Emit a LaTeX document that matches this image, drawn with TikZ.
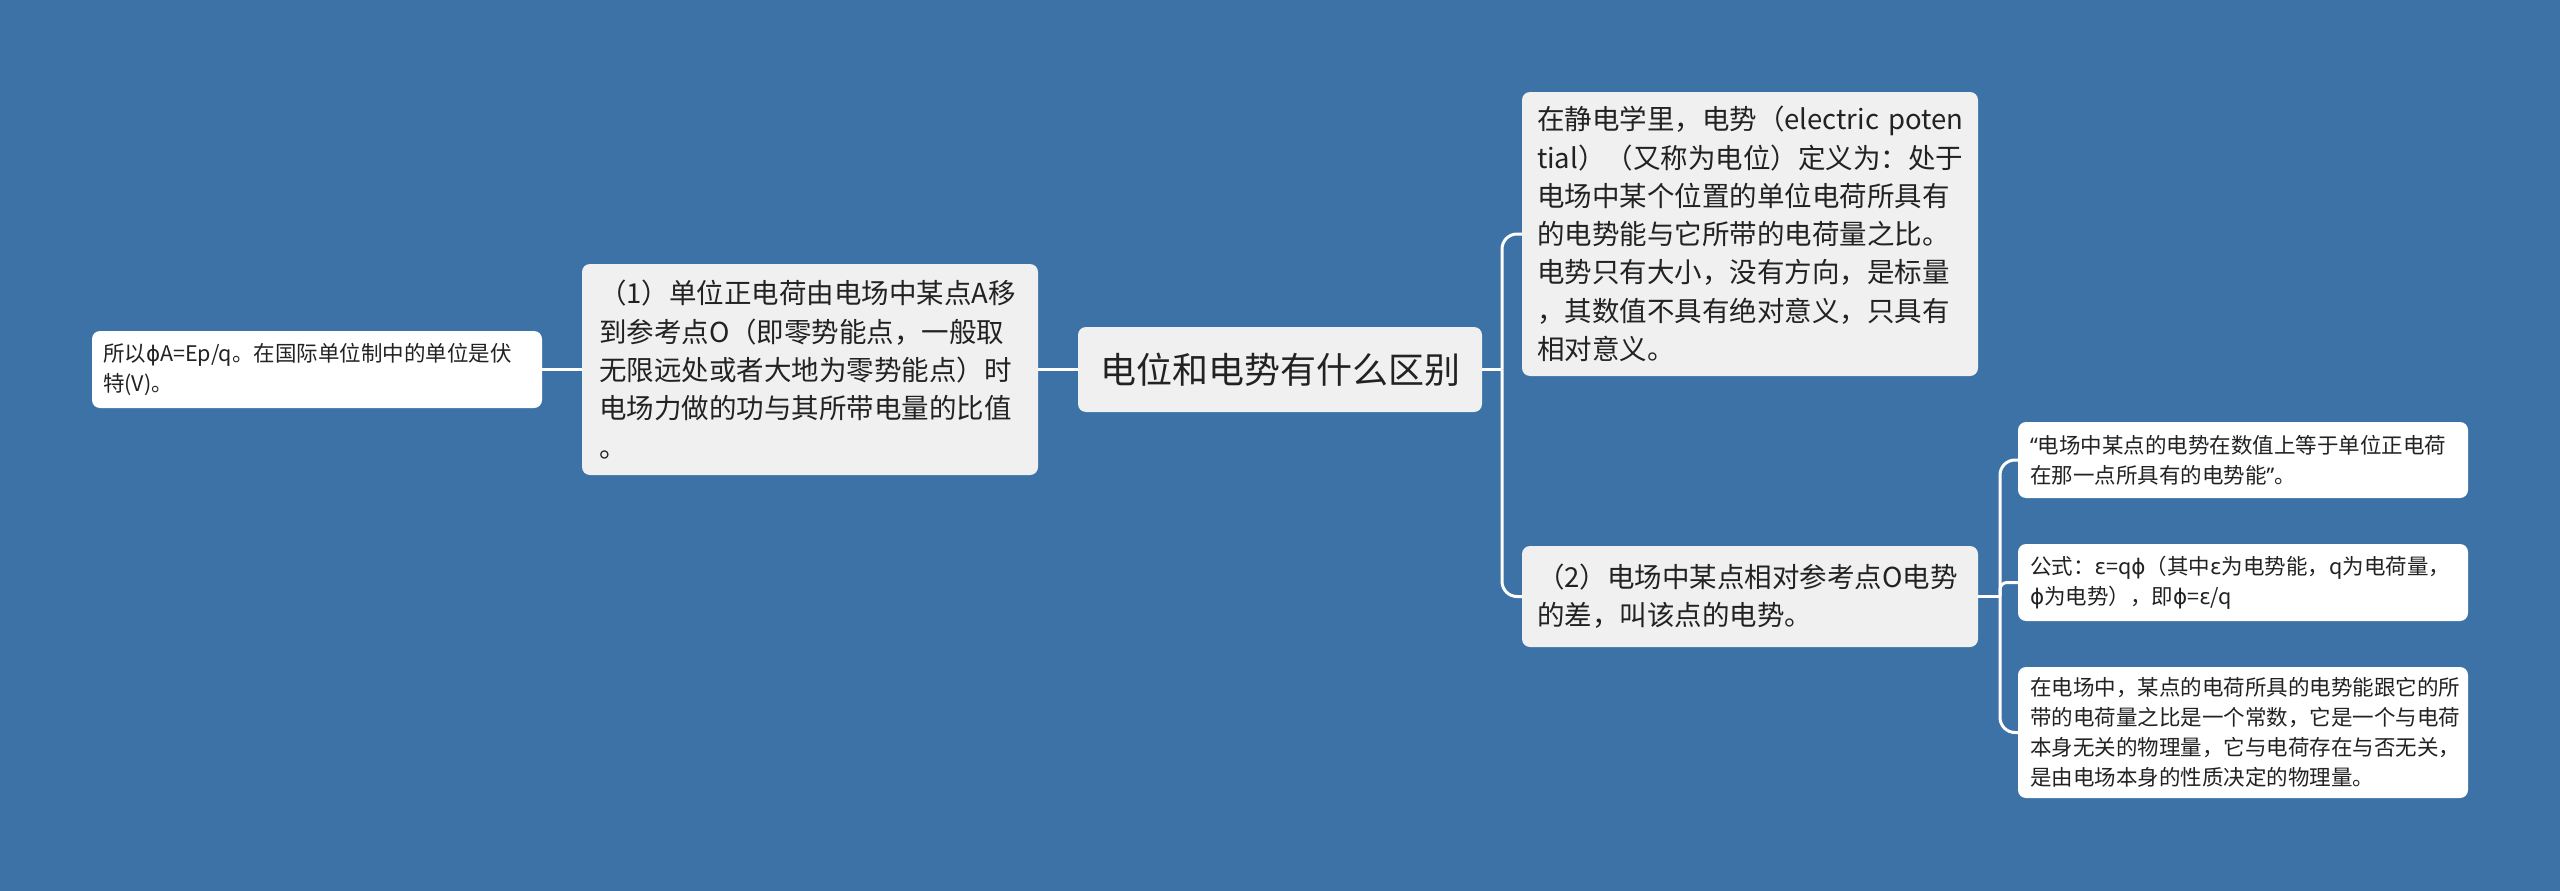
\documentclass[tikz,border=0pt]{standalone}
\usepackage{fontspec}
\setmainfont{Noto Sans CJK SC}
\newfontfamily\grk{DejaVu Sans}
\newfontfamily\quotefont{Noto Sans}
\definecolor{bg}{RGB}{61,114,166}
\definecolor{boxgray}{RGB}{240,240,240}
\definecolor{txt}{RGB}{34,34,34}
\begin{document}
\begin{tikzpicture}[x=1pt,y=-1pt,
  base/.style={rounded corners=8pt, inner ysep=0pt, align=left, text=txt, anchor=center},
  graybox/.style={base, fill=boxgray},
  whitebox/.style={base, fill=white},
  big/.style={font=\fontsize{27.5}{38.3}\selectfont},
  small/.style={font=\fontsize{21.5}{30}\selectfont},
  conn/.style={draw=white, line width=3pt},
]
\fill[bg] (0,0) rectangle (2560,891);
\useasboundingbox (0,0) rectangle (2560,891);

\node[whitebox, small, text width=428pt, inner xsep=11pt, minimum height=77pt] (leaf0) at (317,369.5)
  {所以{\grk ϕ}A=Ep/q。在国际单位制中的单位是伏\\特(V)。};
\node[graybox, big, text width=422pt, inner xsep=17pt, minimum height=211pt] (b1) at (810,369.5)
  {（1）单位正电荷由电场中某点A移\\到参考点O（即零势能点，一般取\\无限远处或者大地为零势能点）时\\电场力做的功与其所带电量的比值\\。};
\node[graybox, font=\fontsize{36}{44}\selectfont, align=center, minimum width=404pt, minimum height=85pt] (root) at (1280,369.5)
  {电位和电势有什么区别};
\node[graybox, big, text width=426pt, inner xsep=15pt, minimum height=284pt] (topr) at (1750,234)
  {在静电学里，电势（electric~poten\\tial）（又称为电位）定义为：处于\\电场中某个位置的单位电荷所具有\\的电势能与它所带的电荷量之比。\\电势只有大小，没有方向，是标量\\，其数值不具有绝对意义，只具有\\相对意义。};
\node[graybox, big, text width=426pt, inner xsep=15pt, minimum height=101pt] (mid2) at (1750,596.5)
  {（2）电场中某点相对参考点O电势\\的差，叫该点的电势。};
\node[whitebox, small, text width=426pt, inner xsep=12pt, minimum height=76pt] (l1) at (2243,460)
  {{\quotefont “}电场中某点的电势在数值上等于单位正电荷\\在那一点所具有的电势能{\quotefont ”}。};
\node[whitebox, small, text width=426pt, inner xsep=12pt, minimum height=77pt] (l2) at (2243,582.5)
  {公式：{\grk ε}=q{\grk ϕ}（其中{\grk ε}为电势能，q为电荷量，\\{\grk ϕ}为电势），即{\grk ϕ}={\grk ε}/q};
\node[whitebox, small, text width=426pt, inner xsep=12pt, minimum height=131pt] (l3) at (2243,732.5)
  {在电场中，某点的电荷所具的电势能跟它的所\\带的电荷量之比是一个常数，它是一个与电荷\\本身无关的物理量，它与电荷存在与否无关，\\是由电场本身的性质决定的物理量。};

\coordinate (j1) at (1502,369.5);
\coordinate (j2) at (2000,596.5);
\draw[conn] (leaf0.east) -- (b1.west);
\draw[conn] (b1.east) -- (root.west);
\draw[conn] (root.east) -- (j1);
\draw[conn, rounded corners=15pt] (j1) |- (topr.west);
\draw[conn, rounded corners=15pt] (j1) |- (mid2.west);
\draw[conn] (mid2.east) -- (j2);
\draw[conn, rounded corners=15pt] (j2) |- (l1.west);
\draw[conn, rounded corners=7pt] (j2) |- (l2.west);
\draw[conn, rounded corners=15pt] (j2) |- (l3.west);
\end{tikzpicture}
\end{document}
